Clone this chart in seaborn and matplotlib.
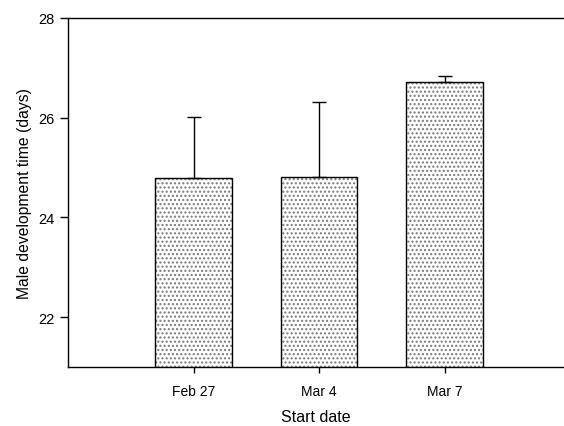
import matplotlib
matplotlib.use("Agg")
import matplotlib.pyplot as plt
import seaborn as sns
import pandas as pd

categories = ["Feb 27", "Mar 4", "Mar 7"]
means = [24.80, 24.82, 26.71]
errors = [1.22, 1.50, 0.12]
yticks = [22, 24, 26, 28]

sns.set_style("white")
plt.rcParams['font.family'] = ['Liberation Sans', 'DejaVu Sans']
plt.rcParams['text.color'] = 'black'
plt.rcParams['axes.labelcolor'] = 'black'
plt.rcParams['xtick.color'] = 'black'
plt.rcParams['ytick.color'] = 'black'

df = pd.DataFrame({"date": categories, "mean": means, "err": errors})

fig = plt.figure(figsize=(5.64, 4.27), dpi=100)
ax = fig.add_axes([68/564, 1 - 368/427, 1 - 68/564, (368 - 19)/427])

# hatch fill
sns.barplot(data=df, x="date", y="mean", ax=ax, width=0.61, color="white",
            edgecolor="#777777", linewidth=0, hatch="....", errorbar=None, zorder=1)
# outlines
sns.barplot(data=df, x="date", y="mean", ax=ax, width=0.61, fill=False,
            edgecolor="black", linewidth=1.0, errorbar=None, zorder=2)

ax.errorbar(x=range(len(categories)), y=df["mean"], yerr=[[0]*len(errors), df["err"]],
            fmt="none", ecolor="black", elinewidth=1.0, capsize=5, capthick=1.0, zorder=3)

ax.set_ylim(21, 28)
ax.set_xlim(-1, 2.95)
ax.set_yticks(yticks)
ax.set_yticklabels([str(t) for t in yticks])
for side in ["left", "top", "bottom"]:
    ax.spines[side].set_visible(True)
    ax.spines[side].set_color("black")
    ax.spines[side].set_linewidth(1.0)
ax.spines["right"].set_visible(False)
ax.tick_params(axis="y", direction="out", length=6, width=1, labelsize=10.5, pad=4, left=True)
ax.tick_params(axis="x", direction="out", length=4, width=1, labelsize=10, pad=8, bottom=True)
ax.set_xlabel("Start date", fontsize=11.5, labelpad=8)
ax.set_ylabel("Male development time (days)", fontsize=11.3, labelpad=4)

fig.savefig("out.png", dpi=100)
